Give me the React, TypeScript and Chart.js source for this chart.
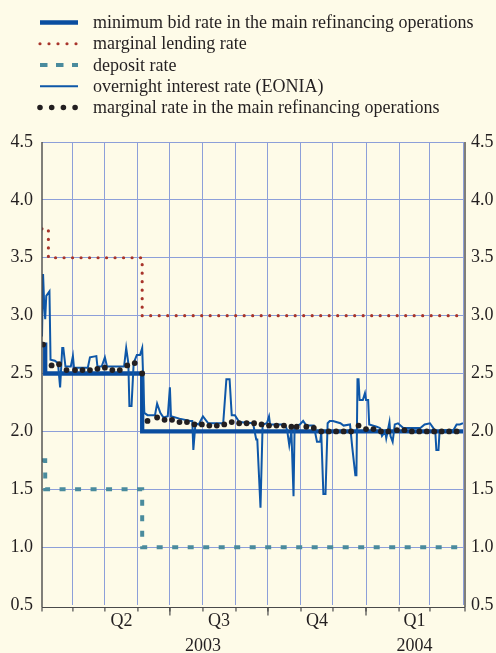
import { useEffect, useRef } from 'react';
import { Chart, registerables } from 'chart.js';

Chart.register(...registerables);

const FONT = '"Liberation Serif", "Times New Roman", serif';
const TEXT = '#231f20';
const GRID = '#8d9fd9';
const AXIS = '#4a4a4a';
const BG = '#fefbe8';
const MRO_C = '#0a4d9f';
const LEND_C = '#a8342b';
const DEP_C = '#4a8b9d';
const EONIA_C = '#0e57a8';

// ---- data (x values: days counted from 1 March 2003) ----
const seriesNames = [
  'minimum bid rate in the main refinancing operations',
  'marginal lending rate',
  'deposit rate',
  'overnight interest rate (EONIA)',
  'marginal rate in the main refinancing operations',
];

const mroDays = [2, 5, 96, 397];
const mroRates = [2.75, 2.5, 2.0, 2.0];

const lendingDays = [2, 8, 96, 397];
const lendingRates = [3.75, 3.5, 3.0, 3.0];

const depositDays = [2, 5, 96, 397];
const depositRates = [1.75, 1.5, 1.0, 1.0];

const eoniaDays = [
  2, 3, 4, 5, 6, 9, 10, 14, 17, 19, 21, 22, 24, 29, 31, 32, 45, 47, 53, 54,
  58, 61, 63, 79, 81, 83, 84, 86, 88, 91, 94, 96, 98, 101, 108, 110, 113, 116, 120, 122,
  123, 131, 141, 143, 144, 146, 149, 153, 158, 172, 175, 178, 180, 183, 187, 200, 203, 204, 207, 209,
  213, 215, 216, 230, 232, 234, 236, 238, 239, 244, 247, 250, 257, 260, 263, 264, 266, 268, 270, 272,
  275, 282, 285, 291, 293, 296, 297, 298, 299, 300, 303, 305, 306, 308, 309, 316, 319, 321, 324, 325,
  328, 329, 331, 333, 336, 341, 357, 361, 366, 369, 371, 372, 374, 375, 379, 388, 391, 394, 397,
];
const eoniaRates = [
  2.82, 3.36, 3.11, 2.97, 3.17, 3.21, 2.62, 2.61, 2.59, 2.38, 2.72, 2.72, 2.56, 2.56, 2.65, 2.55, 2.55, 2.64, 2.65, 2.56,
  2.56, 2.64, 2.56, 2.56, 2.72, 2.59, 2.22, 2.22, 2.59, 2.66, 2.66, 2.72, 2.16, 2.14, 2.14, 2.24, 2.16, 2.12, 2.13, 2.38,
  2.13, 2.11, 2.09, 2.09, 1.84, 2.07, 2.06, 2.13, 2.07, 2.07, 2.45, 2.45, 2.14, 2.14, 2.08, 2.07, 1.93, 1.93, 1.34, 2.06,
  2.07, 2.13, 2.06, 2.06, 2.01, 1.88, 2.0, 1.44, 2.04, 2.06, 2.09, 2.05, 2.05, 1.91, 1.91, 1.99, 1.46, 1.46, 2.07, 2.09,
  2.09, 2.07, 2.05, 2.06, 1.87, 1.62, 1.62, 2.45, 2.45, 2.27, 2.27, 2.33, 2.27, 2.27, 2.06, 2.04, 2.03, 1.96, 2.0, 1.94,
  2.08, 1.96, 1.91, 2.06, 2.07, 2.03, 2.03, 2.06, 2.07, 2.03, 2.0, 1.84, 1.84, 2.0, 2.01, 2.01, 2.06, 2.06, 2.07,
];

const marginalDays = [
  3, 11, 18, 25, 33, 40, 47, 54, 61, 68, 75, 82, 89, 96, 101, 110, 117, 124, 131, 138,
  145, 152, 159, 166, 173, 180, 187, 194, 201, 208, 215, 222, 229, 236, 241, 250, 257, 264, 271, 278,
  285, 292, 299, 306, 313, 320, 327, 335, 342, 349, 356, 363, 370, 377, 384, 391,
];
const marginalRates = [
  2.75, 2.57, 2.58, 2.53, 2.53, 2.53, 2.53, 2.54, 2.55, 2.53, 2.53, 2.57, 2.59, 2.5, 2.09, 2.12, 2.1, 2.1, 2.08, 2.08,
  2.06, 2.06, 2.05, 2.05, 2.06, 2.08, 2.07, 2.07, 2.07, 2.06, 2.05, 2.05, 2.05, 2.04, 2.04, 2.04, 2.03, 2.0, 2.0, 2.0,
  2.0, 2.0, 2.05, 2.02, 2.02, 2.0, 2.0, 2.01, 2.01, 2.0, 2.0, 2.0, 2.0, 2.0, 2.0, 2.0,
];

const xMinDay = 2; // 3 March 2003
const xMaxDay = 397; // 1 April 2004
const yMin = 0.5;
const yMax = 4.5;
const yStep = 0.5;

const quarterLabels = ['Q2', 'Q3', 'Q4', 'Q1'];
const quarterStarts: [number, number][] = [[2003, 3], [2003, 6], [2003, 9], [2004, 0], [2004, 3]];
const yearLabels = ['2003', '2004'];
const yearSpans: [number, number, number, number][] = [[2003, 2, 2004, 0], [2004, 0, 2004, 3]];

// ---- helpers ----
const dayOf = (y: number, m: number) => (Date.UTC(y, m, 1) - Date.UTC(2003, 2, 1)) / 86400000;
const toPts = (xs: number[], ys: number[]) => xs.map((x, i) => ({ x, y: ys[i] }));

const monthDays: number[] = [];
for (let k = 1; k <= 13; k++) monthDays.push(dayOf(2003 + Math.floor((2 + k) / 12), (2 + k) % 12));
const longTickDays = quarterStarts.slice(1, 4).map(([y, m]) => dayOf(y, m));

type TickInfo = { grid: boolean; lines: string[] };
const tickMap = new Map<number, TickInfo>();
const getTick = (v: number) => {
  if (!tickMap.has(v)) tickMap.set(v, { grid: false, lines: ['', ''] });
  return tickMap.get(v)!;
};
monthDays.forEach((d) => (getTick(d).grid = true));
quarterLabels.forEach((q, i) => {
  const a = dayOf(quarterStarts[i][0], quarterStarts[i][1]);
  const b = dayOf(quarterStarts[i + 1][0], quarterStarts[i + 1][1]);
  getTick((a + b) / 2).lines[0] = q;
});
yearLabels.forEach((yl, i) => {
  const [y1, m1, y2, m2] = yearSpans[i];
  getTick((dayOf(y1, m1) + dayOf(y2, m2)) / 2).lines[1] = yl;
});
const tickValues = Array.from(tickMap.keys()).sort((a, b) => a - b);

const legendStyles = [
  { color: MRO_C, width: 4.3, dash: [] as number[], cap: 'butt' as CanvasLineCap },
  { color: LEND_C, width: 3.2, dash: [0, 9], cap: 'round' as CanvasLineCap },
  { color: DEP_C, width: 4, dash: [7.5, 8.5], cap: 'butt' as CanvasLineCap },
  { color: EONIA_C, width: 2, dash: [] as number[], cap: 'butt' as CanvasLineCap },
  { color: TEXT, width: 5.6, dash: [0, 11.7], cap: 'round' as CanvasLineCap },
];

const bgPlugin = {
  id: 'bg',
  beforeDraw(chart: any) {
    const { ctx, width, height } = chart;
    ctx.save();
    ctx.fillStyle = BG;
    ctx.fillRect(0, 0, width, height);
    ctx.restore();
  },
};

const decoPlugin = {
  id: 'deco',
  afterDraw(chart: any) {
    const { ctx, chartArea } = chart;
    const { left, right, top, bottom } = chartArea;
    const xs = chart.scales.x;
    const seg = (x1: number, y1: number, x2: number, y2: number) => {
      ctx.beginPath();
      ctx.moveTo(x1, y1);
      ctx.lineTo(x2, y2);
      ctx.stroke();
    };
    ctx.save();
    ctx.strokeStyle = AXIS;
    ctx.lineWidth = 1.4;
    const yb = bottom + 2.5;
    seg(left, top, left, yb);
    seg(right + 2, top, right + 2, yb);
    ctx.lineWidth = 1.2;
    seg(left, yb, right + 2, yb);
    const tickXs = [left, ...monthDays.filter((d) => d < xMaxDay).map((d) => xs.getPixelForValue(d)), right + 2];
    tickXs.forEach((px) => seg(px, yb, px, yb + 4));
    longTickDays.forEach((d) => {
      const px = xs.getPixelForValue(d);
      seg(px, yb, px, yb + 8);
    });

    // legend
    ctx.font = `18px ${FONT}`;
    ctx.fillStyle = TEXT;
    ctx.textBaseline = 'alphabetic';
    ctx.textAlign = 'left';
    legendStyles.forEach((st, i) => {
      const y = 22.5 + i * 21.25;
      ctx.save();
      ctx.strokeStyle = st.color;
      ctx.lineWidth = st.width;
      ctx.setLineDash(st.dash);
      ctx.lineCap = st.cap;
      seg(40, y, 78, y);
      ctx.restore();
      ctx.fillText(seriesNames[i], 93, y + 5.6);
    });
    ctx.restore();
  },
};

export default function App() {
  const ref = useRef<HTMLCanvasElement>(null);
  useEffect(() => {
    document.body.style.margin = '0';
    document.body.style.background = BG;
    Chart.defaults.font.family = FONT;
    const tickFont = { family: FONT, size: 18, lineHeight: 1.42 };
    const chart = new Chart(ref.current!, {
      type: 'line',
      data: {
        datasets: [
          {
            label: seriesNames[4],
            data: toPts(marginalDays, marginalRates),
            showLine: false,
            pointRadius: 2.9,
            pointBackgroundColor: TEXT,
            pointBorderWidth: 0,
            order: 0,
          },
          {
            label: seriesNames[3],
            data: toPts(eoniaDays, eoniaRates),
            borderColor: EONIA_C,
            borderWidth: 2,
            pointRadius: 0,
            tension: 0,
            order: 1,
          },
          {
            label: seriesNames[0],
            data: toPts(mroDays, mroRates),
            stepped: 'before',
            borderColor: MRO_C,
            borderWidth: 4.3,
            pointRadius: 0,
            order: 2,
          },
          {
            label: seriesNames[1],
            data: toPts(lendingDays, lendingRates),
            stepped: 'before',
            borderColor: LEND_C,
            borderWidth: 3.2,
            borderDash: [0, 8.5],
            borderCapStyle: 'round',
            pointRadius: 0,
            order: 3,
          },
          {
            label: seriesNames[2],
            data: toPts(depositDays, depositRates),
            stepped: 'before',
            borderColor: DEP_C,
            borderWidth: 4,
            borderDash: [6, 9.5],
            pointRadius: 0,
            order: 4,
          },
        ],
      },
      options: {
        animation: false,
        responsive: true,
        maintainAspectRatio: false,
        layout: { padding: { top: 142, left: 0, right: 0, bottom: 0 } },
        plugins: { legend: { display: false }, tooltip: { enabled: false } },
        scales: {
          x: {
            type: 'linear',
            min: xMinDay,
            max: xMaxDay,
            afterBuildTicks: (scale: any) => {
              scale.ticks = tickValues.map((v) => ({ value: v }));
            },
            afterFit: (scale: any) => {
              scale.height = 48;
            },
            grid: {
              color: (ctx: any) => (ctx.tick && tickMap.get(ctx.tick.value)?.grid ? GRID : 'rgba(0,0,0,0)'),
              drawTicks: false,
              lineWidth: 1,
            },
            border: { display: false },
            ticks: {
              autoSkip: false,
              maxRotation: 0,
              padding: 3,
              color: TEXT,
              font: tickFont,
              callback: (v: any) => {
                const t = tickMap.get(Number(v));
                if (!t) return '';
                if (!t.lines[0] && !t.lines[1]) return '';
                return t.lines[1] ? [t.lines[0], t.lines[1]] : t.lines[0];
              },
            },
          },
          y: {
            position: 'left',
            min: yMin,
            max: yMax,
            afterFit: (scale: any) => {
              scale.width = 42;
            },
            grid: {
              color: (ctx: any) => (ctx.tick && ctx.tick.value === yMin ? 'rgba(0,0,0,0)' : GRID),
              drawTicks: false,
              lineWidth: 1,
            },
            border: { display: false },
            ticks: {
              stepSize: yStep,
              padding: 9,
              color: TEXT,
              font: tickFont,
              callback: (v: any) => Number(v).toFixed(1),
            },
          },
          y2: {
            position: 'right',
            min: yMin,
            max: yMax,
            afterFit: (scale: any) => {
              scale.width = 33;
            },
            grid: { display: false, drawTicks: false },
            border: { display: false },
            ticks: {
              stepSize: yStep,
              padding: 8,
              color: TEXT,
              font: tickFont,
              callback: (v: any) => Number(v).toFixed(1),
            },
          },
        },
      },
      plugins: [bgPlugin, decoPlugin],
    } as any);
    return () => chart.destroy();
  }, []);
  return (
    <div style={{ position: 'fixed', left: 0, top: 0, width: 496, height: 653, background: BG }}>
      <canvas ref={ref} />
    </div>
  );
}
